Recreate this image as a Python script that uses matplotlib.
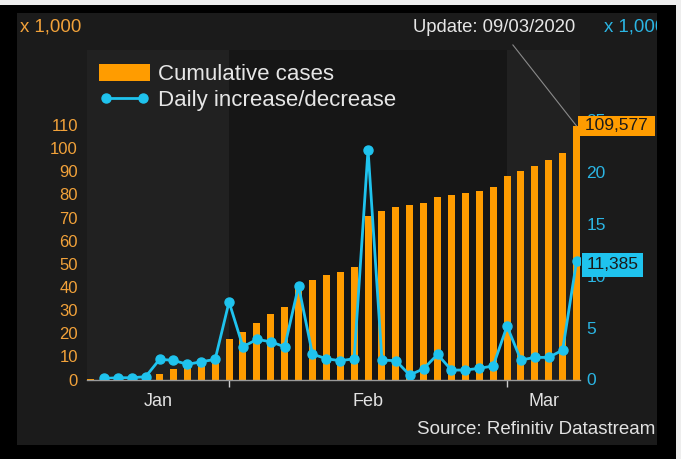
import matplotlib
matplotlib.use("Agg")
import matplotlib.pyplot as plt
from matplotlib.patches import Rectangle

plt.rcParams['font.family'] = ['Liberation Sans', 'DejaVu Sans']

# ---- data (thousands of cases), trading days only ----
dates = ["Jan 20", "Jan 21", "Jan 22", "Jan 23", "Jan 24",
         "Jan 27", "Jan 28", "Jan 29", "Jan 30", "Jan 31",
         "Feb 3", "Feb 4", "Feb 5", "Feb 6", "Feb 7",
         "Feb 10", "Feb 11", "Feb 12", "Feb 13", "Feb 14",
         "Feb 17", "Feb 18", "Feb 19", "Feb 20", "Feb 21",
         "Feb 24", "Feb 25", "Feb 26", "Feb 27", "Feb 28",
         "Mar 2", "Mar 3", "Mar 4", "Mar 5", "Mar 6",
         "Mar 9"]
cumulative = [0.3, 0.4, 0.6, 0.8, 1.0,
              2.3, 4.5, 6.2, 7.8, 9.8,
              17.4, 20.4, 24.5, 28.2, 31.2,
              40.2, 43.0, 45.0, 46.5, 48.6,
              70.7, 72.8, 74.7, 75.2, 76.3,
              78.9, 79.6, 80.5, 81.5, 83.0,
              88.1, 90.2, 92.3, 94.9, 98.0,
              109.577]
daily = [None, 0.10, 0.17, 0.17, 0.27,
         1.94, 1.85, 1.46, 1.71, 1.94,
         7.48, 3.15, 3.87, 3.64, 3.15,
         9.02, 2.45, 2.00, 1.81, 2.00,
         22.16, 1.88, 1.81, 0.43, 1.04,
         2.42, 0.91, 0.91, 1.08, 1.30,
         5.14, 1.88, 2.13, 2.13, 2.84,
         11.385]
month_labels = ["Jan", "Feb", "Mar"]
month_starts = ["Feb 3", "Mar 2"]
left_ticks = list(range(0, 111, 10))
right_ticks = list(range(0, 26, 5))
last_cum_label = "109,577"
last_daily_label = "11,385"

ORANGE = '#ff9c00'
CYAN = '#1fc3ee'

W, H = 681, 459
fig = plt.figure(figsize=(W / 100, H / 100), dpi=100, facecolor='#eeeeee')

def fx(px):
    return px / W

def fy(py):
    return 1 - py / H

black = Rectangle((0, fy(459)), fx(676), fy(5) - fy(459), transform=fig.transFigure,
                  facecolor='black', edgecolor='none', zorder=-20)
panel = Rectangle((fx(17), fy(445)), fx(657) - fx(17), fy(13) - fy(445), transform=fig.transFigure,
                  facecolor='#1b1b1b', edgecolor='none', zorder=-10)
fig.patches.extend([black, panel])

ax = fig.add_axes([fx(87), fy(379.5), fx(580) - fx(87), fy(50) - fy(379.5)])
ax.set_facecolor('#161616')
x = list(range(len(dates)))
xmin, xmax = -0.22, len(dates) - 0.75
ax.set_xlim(xmin, xmax)
ax.set_ylim(0, 142.4)

b1 = dates.index(month_starts[0])
b2 = dates.index(month_starts[1])
ax.axvspan(xmin, b1, color='#212121', zorder=0, lw=0)
ax.axvspan(b2, xmax, color='#212121', zorder=0, lw=0)

bars = ax.bar(x, cumulative, width=0.5, color=ORANGE, zorder=2, label='Cumulative cases')

for s in ['top', 'left', 'right']:
    ax.spines[s].set_visible(False)
ax.spines['bottom'].set_color('#9a9a9a')
ax.spines['bottom'].set_linewidth(1)

ax.set_yticks(left_ticks)
ax.tick_params(axis='y', length=0, pad=6.5, labelcolor='#f2a23a', labelsize=12)
ax.set_xticks([b1, b2])
ax.set_xticklabels([])
ax.tick_params(axis='x', which='major', length=5, color='#cccccc', width=1)
centers = [(xmin + b1) / 2, (b1 + b2) / 2, (b2 + xmax) / 2]
ax.set_xticks(centers, minor=True)
ax.set_xticklabels(month_labels, minor=True)
ax.tick_params(axis='x', which='minor', length=0, pad=10, labelcolor='#e2e2e2', labelsize=13)

ax2 = ax.twinx()
ax2.set_ylim(0, 31.77)
for s in ax2.spines.values():
    s.set_visible(False)
ax2.set_yticks(right_ticks)
ax2.tick_params(axis='y', length=0, pad=4.5, labelcolor='#2bb5e3', labelsize=12.5)
dx = [xi for xi, v in zip(x, daily) if v is not None]
dv = [v for v in daily if v is not None]
line, = ax2.plot(dx, dv, color=CYAN, lw=2, marker='o', ms=6.5, zorder=3,
                 label='Daily increase/decrease')

# legend
leg = ax2.legend(handles=[bars, line], loc='upper left', bbox_to_anchor=(fx(99), fy(64)),
                 bbox_transform=fig.transFigure, frameon=False, fontsize=16,
                 handlelength=2.3, handleheight=0.8, handletextpad=0.35,
                 labelspacing=0.2, borderpad=0, borderaxespad=0, numpoints=2)
for t in leg.get_texts():
    t.set_color('#e6e6e6')
leg.set_zorder(10)

# headers
fig.text(fx(20), fy(27), 'x 1,000', color='#f2a23a', fontsize=13.4, ha='left', va='center')
t_r = fig.text(fx(604), fy(27), 'x 1,000', color='#2bb5e3', fontsize=13.4, ha='left', va='center',
               clip_on=True)
t_r.set_clip_path(panel)

ax.annotate('Update: 09/03/2020', xy=(x[-1], cumulative[-1]), xycoords='data',
            xytext=(413, H - 27), textcoords='figure pixels', ha='left', va='center',
            color='#e6e6e6', fontsize=13.3,
            arrowprops=dict(arrowstyle='-', color='#8a8a8a', lw=0.8,
                            relpos=(0.57, 0.0), shrinkA=6, shrinkB=0),
            annotation_clip=False)

# value boxes (drawn on the top axes so they cover the tick labels)
tb1 = ax2.annotate(' ' + last_cum_label + ' ', xy=(1.0, cumulative[-1]),
                   xycoords=('axes fraction', ax.transData), ha='left', va='center',
                   fontsize=12.5, color='#1a1a1a', annotation_clip=False,
                   bbox=dict(boxstyle='square,pad=0.12', facecolor=ORANGE, edgecolor='none'),
                   zorder=12)
tb1.set_clip_on(True)
tb1.set_clip_path(panel)
ax2.annotate(last_daily_label, xy=(1.0, daily[-1]), xytext=(4.5, -2.5),
             textcoords='offset points',
             xycoords=('axes fraction', 'data'), ha='left', va='center',
             fontsize=12.5, color='#1a1a1a', annotation_clip=False,
             bbox=dict(boxstyle='square,pad=0.25', facecolor=CYAN, edgecolor='none'),
             zorder=12)

fig.text(fx(655), fy(430), 'Source: Refinitiv Datastream', color='#e2e2e2', fontsize=13.5,
         ha='right', va='center')

fig.savefig('out.png', dpi=100, facecolor=fig.get_facecolor())
